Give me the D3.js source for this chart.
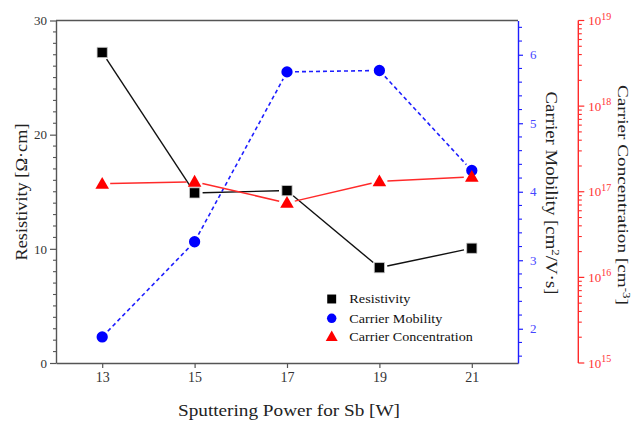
<!DOCTYPE html>
<html>
<head>
<meta charset="utf-8">
<script src="https://cdn.jsdelivr.net/npm/d3@7"></script>
<style>
  html, body { margin: 0; padding: 0; background: #fff; }
  svg { display: block; font-family: "Liberation Serif", "Times New Roman", serif; }
</style>
</head>
<body>
<svg id="chart" width="634" height="421"></svg>
<script>
// ---- data ----
const powers = [13, 15, 17, 19, 21];
const resistivity = [27.2, 14.9, 15.1, 8.35, 10.05];
const mobility = [1.88, 3.27, 5.75, 5.77, 4.31];
const concentration = [1.24e17, 1.31e17, 7.4e16, 1.32e17, 1.49e17];

const xTicks = [13, 15, 17, 19, 21];
const leftTicks = [0, 10, 20, 30];
const blueTicks = [2, 3, 4, 5, 6];
const redTicks = [1e15, 1e16, 1e17, 1e18, 1e19];
const redTickExp = ["15", "16", "17", "18", "19"];

const seriesNames = ["Resistivity", "Carrier Mobility", "Carrier Concentration"];
const xTitle = "Sputtering Power for Sb [W]";
const leftTitle = "Resistivity [Ω·cm]";

// ---- layout ----
const svg = d3.select("#chart");
const L = 56, R = 518, T = 20.5, B = 363;
const redX = 578.3;

const x = d3.scaleLinear().domain([12, 22]).range([L, R]);
const yL = d3.scaleLinear().domain([0, 30]).range([B, T]);
const yB = d3.scaleLinear().domain([1.5, 6.5]).range([B, T]);
const yR = d3.scaleLog().domain([1e15, 1e19]).range([B, T]);

const gray = "#555";
const blue = "#1e1eff";
const blueText = "#4646ff";
const red = "#ff2a2a";
const redText = "#ff3434";

// frame: top line
svg.append("line").attr("x1", L).attr("x2", R).attr("y1", T).attr("y2", T)
  .attr("stroke", gray).attr("stroke-width", 1.4);

// bottom axis
const gx = svg.append("g").attr("transform", `translate(0,${B})`)
  .call(d3.axisBottom(x).tickValues(xTicks).tickSize(5).tickSizeOuter(0).tickPadding(4).tickFormat(d3.format("d")));
gx.select(".domain").attr("stroke", gray).attr("stroke-width", 1.4);
gx.selectAll(".tick line").attr("stroke", gray).attr("stroke-width", 1.2);
gx.selectAll(".tick text").attr("font-size", 14).attr("fill", "#333").attr("font-family", "Liberation Serif");

// left axis
const minorL = d3.range(1, 30).filter(v => v % 10 !== 0);
const gl = svg.append("g").attr("transform", `translate(${L},0)`);
gl.call(d3.axisLeft(yL).tickValues(leftTicks).tickSize(6).tickSizeOuter(0).tickPadding(3).tickFormat(d3.format("d")));
gl.select(".domain").attr("stroke", gray).attr("stroke-width", 1.4);
gl.selectAll(".tick line").attr("stroke", gray).attr("stroke-width", 1.2);
gl.selectAll(".tick text").attr("font-size", 13).attr("fill", "#333").attr("font-family", "Liberation Serif");
gl.append("g").selectAll("line").data(minorL).join("line")
  .attr("x1", -3).attr("x2", 0).attr("y1", d => yL(d)).attr("y2", d => yL(d))
  .attr("stroke", gray).attr("stroke-width", 1.1);

// blue axis
const minorB = d3.range(16, 65, 2).map(v => v / 10).filter(v => Math.abs(v - Math.round(v)) > 1e-6);
const gb = svg.append("g").attr("transform", `translate(${R},0)`);
gb.call(d3.axisRight(yB).tickValues(blueTicks).tickSize(5).tickSizeOuter(0).tickPadding(7).tickFormat(d3.format("d")));
gb.select(".domain").attr("stroke", blue).attr("stroke-width", 1.4);
gb.selectAll(".tick line").attr("stroke", blue).attr("stroke-width", 1.2);
gb.selectAll(".tick text").attr("font-size", 13).attr("fill", blueText).attr("font-family", "Liberation Serif");
gb.append("g").selectAll("line").data(minorB).join("line")
  .attr("x1", 0).attr("x2", 4).attr("y1", d => yB(d)).attr("y2", d => yB(d))
  .attr("stroke", blue).attr("stroke-width", 1.1);

// red log axis
const gr = svg.append("g").attr("transform", `translate(${redX},0)`);
gr.append("line").attr("x1", 0).attr("x2", 0).attr("y1", yR(1e15)).attr("y2", yR(1e19))
  .attr("stroke", red).attr("stroke-width", 1.4);
const minorR = [];
[1e15, 1e16, 1e17, 1e18].forEach(dec => { for (let k = 2; k <= 9; k++) minorR.push(dec * k); });
gr.selectAll("line.minor").data(minorR).join("line").attr("class", "minor")
  .attr("x1", 0).attr("x2", 3.5).attr("y1", d => yR(d)).attr("y2", d => yR(d))
  .attr("stroke", red).attr("stroke-width", 1.1);
gr.selectAll("line.major").data(redTicks).join("line").attr("class", "major")
  .attr("x1", 0).attr("x2", 6).attr("y1", d => yR(d)).attr("y2", d => yR(d))
  .attr("stroke", red).attr("stroke-width", 1.2);
const rl = gr.selectAll("text.lab").data(redTicks).join("text").attr("class", "lab")
  .attr("x", 10).attr("y", d => yR(d) + 4.5)
  .attr("font-size", 13).attr("fill", redText);
rl.append("tspan").text("10");
rl.append("tspan").attr("dy", -5.5).attr("font-size", 10).text((d, i) => redTickExp[i]);

// ---- series ----
const gap = 8;
function gappedSegments(g, xs, ys, color, width, dash) {
  const pts = xs.map((v, i) => [x(v), ys[i]]);
  const segs = d3.pairs(pts).map(([a, b]) => {
    const dx = b[0] - a[0], dy = b[1] - a[1];
    const len = Math.hypot(dx, dy);
    const ux = dx / len, uy = dy / len;
    return [[a[0] + ux * gap, a[1] + uy * gap], [b[0] - ux * gap, b[1] - uy * gap]];
  });
  g.selectAll("line").data(segs).join("line")
    .attr("x1", d => d[0][0]).attr("y1", d => d[0][1])
    .attr("x2", d => d[1][0]).attr("y2", d => d[1][1])
    .attr("stroke", color).attr("stroke-width", width)
    .attr("stroke-dasharray", dash || null);
}

const gLines = svg.append("g");
gappedSegments(gLines.append("g"), powers, resistivity.map(v => yL(v)), "#111", 1.4);
gappedSegments(gLines.append("g"), powers, mobility.map(v => yB(v)), blue, 1.6, "4,3");
gappedSegments(gLines.append("g"), powers, concentration.map(v => yR(v)), red, 1.5);

const sq = d3.symbol().type(d3.symbolSquare).size(105)();
const ci = d3.symbol().type(d3.symbolCircle).size(100)();
const tr = d3.symbol().type(d3.symbolTriangle).size(80)();

const gM = svg.append("g");
gM.append("g").selectAll("path").data(powers).join("path")
  .attr("d", sq).attr("transform", (d, i) => `translate(${x(d)},${yL(resistivity[i])})`)
  .attr("fill", "#000").attr("stroke", "#ccc").attr("stroke-width", 0.8);
gM.append("g").selectAll("path").data(powers).join("path")
  .attr("d", ci).attr("transform", (d, i) => `translate(${x(d)},${yB(mobility[i])})`)
  .attr("fill", "#0000ff");
gM.append("g").selectAll("path").data(powers).join("path")
  .attr("d", tr).attr("transform", (d, i) => `translate(${x(d)},${yR(concentration[i]) + 1})`)
  .attr("fill", "#ff0000");

// ---- legend ----
const legSyms = [
  { d: d3.symbol().type(d3.symbolSquare).size(80)(), fill: "#000" },
  { d: d3.symbol().type(d3.symbolCircle).size(70)(), fill: "#0000ff" },
  { d: d3.symbol().type(d3.symbolTriangle).size(62)(), fill: "#ff0000" }
];
const legY = [299, 318.3, 336.7];
const gLeg = svg.append("g");
gLeg.selectAll("path").data(legSyms).join("path")
  .attr("d", d => d.d).attr("fill", d => d.fill)
  .attr("transform", (d, i) => `translate(331.7,${legY[i] + (i === 2 ? 0.8 : 0)})`);
const legWidths = [61, 93, 123.5];
gLeg.selectAll("text").data(seriesNames).join("text")
  .attr("x", 349.3).attr("y", (d, i) => legY[i] + 4.3)
  .attr("font-size", 12.5).attr("fill", "#111")
  .attr("textLength", (d, i) => legWidths[i]).attr("lengthAdjust", "spacingAndGlyphs")
  .text(d => d);

// ---- titles ----
svg.append("text").attr("x", 289).attr("y", 416).attr("text-anchor", "middle")
  .attr("font-size", 16).attr("fill", "#222")
  .attr("textLength", 222).attr("lengthAdjust", "spacingAndGlyphs")
  .text(xTitle);

svg.append("text").attr("transform", "translate(27,192) rotate(-90)")
  .attr("text-anchor", "middle").attr("font-size", 16).attr("fill", "#222")
  .attr("textLength", 137).attr("lengthAdjust", "spacingAndGlyphs")
  .text(leftTitle);

const t1 = svg.append("text").attr("transform", "translate(546,193) rotate(90)")
  .attr("text-anchor", "middle").attr("font-size", 16).attr("fill", "#222")
  .attr("textLength", 203).attr("lengthAdjust", "spacingAndGlyphs");
t1.append("tspan").text("Carrier Mobility [cm");
t1.append("tspan").attr("dy", -6).attr("font-size", 11).text("2");
t1.append("tspan").attr("dy", 6).text("/V·s]");

const t2 = svg.append("text").attr("transform", "translate(618,195) rotate(90)")
  .attr("text-anchor", "middle").attr("font-size", 15.5).attr("fill", "#222")
  .attr("textLength", 220).attr("lengthAdjust", "spacingAndGlyphs");
t2.append("tspan").text("Carrier Concentration [cm");
t2.append("tspan").attr("dy", -4.5).attr("font-size", 10.5).text("-3");
t2.append("tspan").attr("dy", 4.5).text("]");
</script>
</body>
</html>
